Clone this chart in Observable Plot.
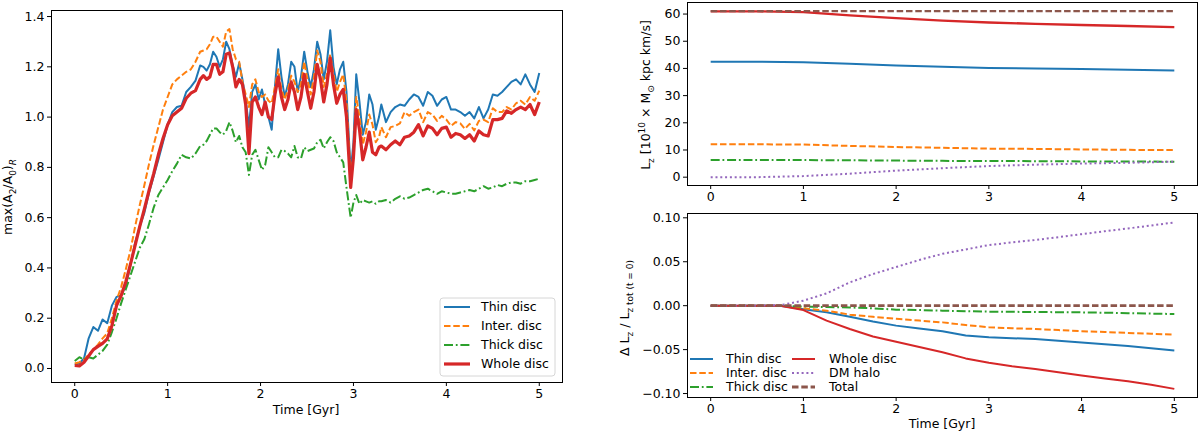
<!DOCTYPE html>
<html>
<head>
<meta charset="utf-8">
<script src="https://cdn.jsdelivr.net/npm/d3@7"></script>
<script src="https://cdn.jsdelivr.net/npm/@observablehq/plot@0.6"></script>
<style>
  body { margin: 0; background: #fff; }
  #fig { position: relative; width: 1200px; height: 437px; font-family: "DejaVu Sans", sans-serif; }
  #fig > svg { position: absolute; }
</style>
</head>
<body>
<div id="fig"></div>
<script>
// ---- left panel: bar strength, time in Gyr
const T = [
  0, 0.05, 0.1, 0.15, 0.2, 0.25, 0.3, 0.35, 0.4, 0.45, 0.5, 0.55, 0.6, 0.65, 0.7, 0.75, 0.8, 0.85, 0.9, 0.95, 1.0, 1.05, 1.1, 1.15, 1.2, 1.25, 1.3,
  1.35, 1.385, 1.42, 1.455, 1.49, 1.525, 1.56, 1.595, 1.63, 1.665, 1.70, 1.735, 1.77, 1.805, 1.84, 1.875, 1.91, 1.945, 1.98, 2.015, 2.05, 2.085, 2.12, 2.155,
  2.19, 2.225, 2.26, 2.295, 2.33, 2.365, 2.40, 2.435, 2.47, 2.505, 2.54, 2.575, 2.61, 2.645, 2.68, 2.715, 2.75, 2.785, 2.82, 2.855, 2.89, 2.925,
  2.97, 3.00, 3.03, 3.065, 3.10, 3.135, 3.17, 3.205, 3.24, 3.275,
  3.3, 3.35, 3.4, 3.45, 3.5, 3.55, 3.6, 3.65, 3.7, 3.75, 3.8, 3.85, 3.9, 3.95, 4.0, 4.05, 4.1, 4.15, 4.2, 4.25, 4.3, 4.35, 4.4, 4.45,
  4.5, 4.55, 4.6, 4.65, 4.7, 4.75, 4.8, 4.85, 4.9, 4.95, 5.0
];

const thinA2 = [
  0.015, 0.02, 0.04, 0.12, 0.165, 0.15, 0.195, 0.18, 0.25, 0.285, 0.29, 0.33, 0.41, 0.50, 0.565, 0.62, 0.70, 0.765, 0.83, 0.90, 0.97, 1.02, 1.04, 1.045, 1.10, 1.12, 1.145,
  1.205, 1.20, 1.185, 1.21, 1.26, 1.24, 1.20, 1.23, 1.30, 1.27, 1.205, 1.16, 1.215, 1.15, 1.07, 0.96, 1.10, 1.13, 1.07, 1.11, 1.05, 1.00, 0.95, 1.12,
  1.27, 1.16, 1.08, 1.13, 1.22, 1.20, 1.10, 1.16, 1.26, 1.18, 1.12, 1.19, 1.30, 1.25, 1.15, 1.22, 1.345, 1.20, 1.13, 1.19, 1.22, 1.10,
  0.78, 0.90, 1.17, 1.06, 0.93, 0.98, 1.09, 1.05, 0.95, 1.00,
  1.05, 0.98, 1.02, 1.04, 1.05, 1.045, 1.07, 1.09, 1.08, 1.045, 1.10, 1.085, 1.045, 1.07, 1.08, 1.03, 1.03, 1.02, 1.005, 1.02, 0.995, 1.04, 0.995, 1.03,
  1.09, 1.085, 1.10, 1.12, 1.14, 1.15, 1.13, 1.17, 1.13, 1.10, 1.175
];
const interA2 = [
  0.02, 0.025, 0.035, 0.055, 0.075, 0.095, 0.12, 0.14, 0.20, 0.27, 0.325, 0.395, 0.47, 0.565, 0.65, 0.73, 0.814, 0.89, 0.96, 1.03, 1.08, 1.13, 1.15, 1.165, 1.18, 1.19, 1.22,
  1.26, 1.265, 1.27, 1.29, 1.32, 1.32, 1.30, 1.28, 1.34, 1.35, 1.27, 1.23, 1.22, 1.14, 1.09, 1.04, 1.13, 1.15, 1.10, 1.08, 1.09, 1.065, 1.055, 1.12,
  1.19, 1.11, 1.07, 1.11, 1.165, 1.14, 1.10, 1.13, 1.22, 1.15, 1.09, 1.16, 1.265, 1.22, 1.12, 1.17, 1.25, 1.17, 1.10, 1.14, 1.17, 1.06,
  0.76, 0.86, 1.08, 1.00, 0.89, 0.94, 1.01, 0.97, 0.90, 0.92,
  0.96, 0.92, 0.96, 0.965, 0.975, 1.02, 1.005, 1.02, 1.03, 0.98, 1.02, 1.01, 0.985, 1.005, 0.99, 0.965, 0.98, 0.975, 0.953, 0.973, 0.947, 0.985, 0.99, 0.98,
  1.035, 1.02, 1.02, 1.04, 1.03, 1.055, 1.065, 1.05, 1.08, 1.065, 1.105
];
const thickA2 = [
  0.03, 0.045, 0.035, 0.045, 0.04, 0.055, 0.07, 0.095, 0.145, 0.20, 0.26, 0.315, 0.37, 0.425, 0.48, 0.515, 0.575, 0.64, 0.69, 0.72, 0.75, 0.785, 0.815, 0.85, 0.84, 0.835, 0.855,
  0.885, 0.89, 0.905, 0.93, 0.955, 0.955, 0.94, 0.93, 0.945, 0.98, 0.945, 0.90, 0.925, 0.88, 0.86, 0.77, 0.85, 0.87, 0.83, 0.79, 0.81, 0.88, 0.86, 0.84,
  0.84, 0.87, 0.865, 0.855, 0.84, 0.885, 0.84, 0.835, 0.88, 0.865, 0.87, 0.875, 0.90, 0.91, 0.875, 0.90, 0.92, 0.905, 0.86, 0.84, 0.82, 0.72,
  0.60, 0.66, 0.69, 0.655, 0.67, 0.665, 0.66, 0.665, 0.655, 0.665,
  0.665, 0.67, 0.66, 0.675, 0.685, 0.675, 0.68, 0.69, 0.70, 0.71, 0.715, 0.705, 0.695, 0.705, 0.70, 0.695, 0.695, 0.70, 0.705, 0.71, 0.705, 0.715, 0.725, 0.715,
  0.72, 0.73, 0.725, 0.735, 0.74, 0.74, 0.735, 0.745, 0.745, 0.75, 0.755
];
const wholeA2 = [
  0.012, 0.01, 0.025, 0.05, 0.075, 0.088, 0.10, 0.118, 0.17, 0.25, 0.29, 0.345, 0.415, 0.49, 0.565, 0.635, 0.708, 0.775, 0.85, 0.915, 0.97, 1.005, 1.02, 1.035, 1.075, 1.095, 1.105,
  1.15, 1.165, 1.15, 1.16, 1.21, 1.21, 1.17, 1.18, 1.25, 1.255, 1.20, 1.12, 1.15, 1.13, 1.05, 0.855, 1.06, 1.08, 1.04, 1.01, 1.06, 1.00, 0.99, 1.09,
  1.16, 1.08, 1.03, 1.07, 1.14, 1.10, 1.03, 1.08, 1.17, 1.10, 1.035, 1.10, 1.21, 1.15, 1.06, 1.13, 1.235, 1.13, 1.055, 1.09, 1.11, 1.00,
  0.72, 0.84, 1.03, 0.95, 0.83, 0.88, 0.94, 0.86, 0.85, 0.88,
  0.885, 0.87, 0.89, 0.905, 0.89, 0.92, 0.925, 0.94, 0.97, 0.925, 0.965, 0.955, 0.93, 0.955, 0.96, 0.92, 0.935, 0.93, 0.915, 0.93, 0.905, 0.945, 0.93, 0.925,
  0.99, 0.99, 0.995, 1.025, 1.015, 1.03, 1.04, 1.03, 1.05, 1.01, 1.06
];

// ---- right panels: angular momentum
const Ttop = [0, 0.5, 1, 1.5, 2, 2.5, 3, 3.5, 4, 4.5, 5];
const thinLz  = [42.5, 42.5, 42.3, 41.7, 41.1, 40.6, 40.2, 40.0, 39.8, 39.5, 39.2];
const interLz = [12.1, 12.1, 12.0, 11.5, 11.1, 10.8, 10.5, 10.4, 10.2, 10.05, 9.95];
const thickLz = [6.3, 6.3, 6.3, 6.2, 6.1, 6.0, 5.95, 5.9, 5.8, 5.75, 5.7];
const wholeLz = [61.0, 61.0, 60.7, 59.5, 58.5, 57.6, 56.9, 56.4, 56.0, 55.6, 55.2];
const haloLz  = [0.0, 0.0, 0.4, 1.3, 2.4, 3.3, 4.1, 4.6, 5.0, 5.3, 5.7];
const totalLz = [61.1, 61.1, 61.1, 61.1, 61.1, 61.1, 61.1, 61.1, 61.1, 61.1, 61.1];

const Tbot = [0, 0.25, 0.5, 0.75, 1, 1.25, 1.5, 1.75, 2, 2.25, 2.5, 2.75, 3, 3.25, 3.5, 3.75, 4, 4.25, 4.5, 4.75, 5];
const thinDL  = [0, 0, 0, 0, -0.004, -0.0076, -0.0125, -0.018, -0.0227, -0.026, -0.029, -0.034, -0.036, -0.037, -0.038, -0.040, -0.042, -0.044, -0.046, -0.0485, -0.051];
const interDL = [0, 0, 0, 0, -0.003, -0.0057, -0.0102, -0.0127, -0.015, -0.017, -0.019, -0.022, -0.0246, -0.0257, -0.0265, -0.0278, -0.029, -0.030, -0.031, -0.032, -0.033];
const thickDL = [0, 0, 0, 0, -0.001, -0.0015, -0.002, -0.003, -0.0045, -0.005, -0.0057, -0.0063, -0.0068, -0.007, -0.0072, -0.0074, -0.0076, -0.008, -0.0085, -0.009, -0.0095];
const wholeDL = [0, 0, 0, 0, -0.005, -0.017, -0.0265, -0.035, -0.041, -0.047, -0.053, -0.060, -0.065, -0.069, -0.072, -0.0757, -0.0795, -0.083, -0.086, -0.090, -0.0947];
const haloDL  = [0, 0, 0, 0.0005, 0.0057, 0.014, 0.0265, 0.036, 0.044, 0.052, 0.059, 0.064, 0.069, 0.072, 0.0747, 0.078, 0.0814, 0.0847, 0.0879, 0.0912, 0.0947];
const totalDL = [0, 0, 0, 0, 0, 0, 0, 0, 0, 0, 0, 0, 0, 0, 0, 0, 0, 0, 0, 0, 0];

const xTicks = [0, 1, 2, 3, 4, 5];
const yTicksA2 = [0, 0.2, 0.4, 0.6, 0.8, 1.0, 1.2, 1.4];
const yTicksLz = [0, 10, 20, 30, 40, 50, 60];
const yTicksDL = [-0.10, -0.05, 0, 0.05, 0.10];

// line styles (matplotlib tab10)
const sty = {
  thin:  {label: "Thin disc",   stroke: "#1f77b4", w: 2.0, dash: null},
  inter: {label: "Inter. disc", stroke: "#ff7f0e", w: 2.0, dash: "6.5,2.8"},
  thick: {label: "Thick disc",  stroke: "#2ca02c", w: 2.0, dash: "9,2.8,1.8,2.8"},
  whole: {label: "Whole disc",  stroke: "#d62728", w: 2.0, dash: null},
  halo:  {label: "DM halo",     stroke: "#9467bd", w: 2.0, dash: "2,2.8"},
  total: {label: "Total",       stroke: "#8c564b", w: 2.2, dash: "6.5,2.8"}
};

const rows = (ts, vs) => ts.map((t, i) => ({t, v: vs[i]}));
const lineOf = (ts, vs, s, w) => Plot.line(rows(ts, vs), {
  x: "t", y: "v", stroke: s.stroke, strokeWidth: w ?? s.w,
  strokeDasharray: s.dash ?? undefined, strokeLinejoin: "round", strokeLinecap: "butt"
});

const baseStyle = {fontFamily: "DejaVu Sans", fontSize: "12.5px", color: "#000", background: "transparent"};
const fig = d3.select("#fig");

// left
const left = Plot.plot({
  width: 570, height: 437,
  marginLeft: 51, marginRight: 8, marginTop: 10, marginBottom: 55,
  style: baseStyle,
  x: {domain: [-0.25, 5.25], ticks: xTicks, tickFormat: "d", label: null, tickSize: 4, tickPadding: 3},
  y: {domain: [-0.0557, 1.424], ticks: yTicksA2, tickFormat: ".1f", label: null, tickSize: 4, tickPadding: 3},
  marks: [
    lineOf(T, thinA2, sty.thin),
    lineOf(T, interA2, sty.inter),
    lineOf(T, thickA2, sty.thick),
    lineOf(T, wholeA2, sty.whole, 3.2),
    Plot.frame({stroke: "#000", strokeWidth: 1})
  ]
});
fig.append(() => left).style("left", "0px").style("top", "0px");

// right top
const rtop = Plot.plot({
  width: 560, height: 205,
  marginLeft: 47, marginRight: 3, marginTop: 2, marginBottom: 20,
  style: baseStyle,
  x: {domain: [-0.25, 5.25], ticks: xTicks, tickFormat: "d", label: null, tickSize: 4, tickPadding: 3},
  y: {domain: [-3.06, 64.25], ticks: yTicksLz, tickFormat: "d", label: null, tickSize: 4, tickPadding: 3},
  marks: [
    lineOf(Ttop, thinLz, sty.thin),
    lineOf(Ttop, interLz, sty.inter),
    lineOf(Ttop, thickLz, sty.thick),
    lineOf(Ttop, wholeLz, sty.whole, 2.4),
    lineOf(Ttop, haloLz, sty.halo),
    lineOf(Ttop, totalLz, sty.total),
    Plot.frame({stroke: "#000", strokeWidth: 1})
  ]
});
fig.append(() => rtop).style("left", "640px").style("top", "0px");

// right bottom
const rbot = Plot.plot({
  width: 560, height: 232,
  marginLeft: 47, marginRight: 3, marginTop: 8, marginBottom: 40,
  style: baseStyle,
  x: {domain: [-0.25, 5.25], ticks: xTicks, tickFormat: "d", label: null, tickSize: 4, tickPadding: 3},
  y: {domain: [-0.1045, 0.1049], ticks: yTicksDL, tickFormat: ".2f", label: null, tickSize: 4, tickPadding: 3},
  marks: [
    lineOf(Tbot, thinDL, sty.thin),
    lineOf(Tbot, interDL, sty.inter),
    lineOf(Tbot, thickDL, sty.thick),
    lineOf(Tbot, wholeDL, sty.whole),
    lineOf(Tbot, haloDL, sty.halo),
    lineOf(Tbot, totalDL, sty.total, 2.8),
    Plot.frame({stroke: "#000", strokeWidth: 1})
  ]
});
fig.append(() => rbot).style("left", "640px").style("top", "205px");

// overlay: axis titles with sub/superscripts, legends
const ov = fig.append("svg")
  .attr("width", 1200).attr("height", 437)
  .style("left", "0px").style("top", "0px")
  .style("font-family", "DejaVu Sans").style("font-size", "12.5px");

function richText(x, y, parts, rotate) {
  const t = ov.append("text")
    .attr("transform", `translate(${x},${y})` + (rotate ? " rotate(-90)" : ""))
    .attr("text-anchor", "middle").attr("dy", "0.35em").attr("fill", "#000");
  let shift = 0;
  for (const [s, k, italic] of parts) {
    const target = k === 1 ? 3.5 : k === -1 ? -5 : 0;
    const sp = t.append("tspan").attr("dy", target - shift).text(s);
    if (k) sp.attr("font-size", "9px");
    if (italic) sp.attr("font-style", "italic");
    shift = target;
  }
}

richText(12, 197, [["max(A", 0], ["2", 1], ["/A", 0], ["0", 1], [")", 0], ["R", 1, true]], true);
richText(650, 95, [["L", 0], ["z", 1], [" [10", 0], ["10", -1], [" × M", 0], ["⊙", 1], [" kpc km/s]", 0]], true);
richText(629, 308, [["Δ L", 0], ["z", 1], [" / L", 0], ["z tot (t = 0)", 1]], true);
richText(306, 414, [["Time [Gyr]", 0]], false);
richText(942, 428, [["Time [Gyr]", 0]], false);

function legendRow(x0, x1, xt, y, s, w) {
  ov.append("line").attr("x1", x0).attr("x2", x1).attr("y1", y).attr("y2", y)
    .attr("stroke", s.stroke).attr("stroke-width", w ?? s.w)
    .attr("stroke-dasharray", s.dash);
  ov.append("text").attr("x", xt).attr("y", y).attr("dy", "0.35em").attr("fill", "#000").text(s.label);
}

// left legend
ov.append("rect").attr("x", 440).attr("y", 298).attr("width", 115).attr("height", 78).attr("rx", 3)
  .attr("fill", "#fff").attr("fill-opacity", 0.8).attr("stroke", "#d6d6d6").attr("stroke-width", 1);
legendRow(444, 470, 481, 307, sty.thin);
legendRow(444, 470, 481, 326, sty.inter);
legendRow(444, 470, 481, 345, sty.thick);
legendRow(444, 470, 481, 364, sty.whole, 3.2);

// right bottom legend (two columns)
legendRow(690, 713, 726, 359, sty.thin);
legendRow(690, 713, 726, 373, sty.inter);
legendRow(690, 713, 726, 387, sty.thick);
legendRow(792, 815, 829, 359, sty.whole);
legendRow(792, 815, 829, 373, sty.halo);
legendRow(792, 815, 829, 387, sty.total, 2.8);
</script>
</body>
</html>
